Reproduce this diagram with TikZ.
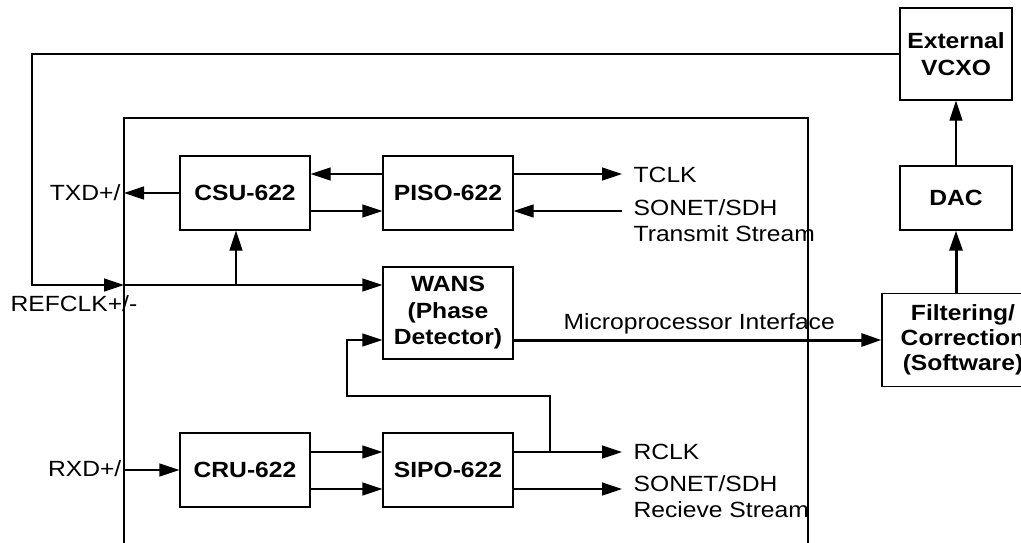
\documentclass[tikz,border=0pt]{standalone}
\usepackage{fontspec}
\setmainfont{Liberation Sans}[FakeStretch=1.12]
\usetikzlibrary{arrows.meta, calc}

\begin{document}
\begin{tikzpicture}[
            x = 1pt, y = -1pt, % pixel units, y going down
            > = {Triangle[length=20pt, width=13pt]}, % arrow head style
            line width = 1.3pt, % line style
            font = \fontsize{22}{26}\selectfont
        ]

        \tikzstyle{block}=[
            draw = black,
            line width = 1.3pt,
            align = center,
            inner sep = 0pt,
            minimum width = 130pt,
            minimum height = 74pt,
            font = \fontsize{22}{26.5}\selectfont\bfseries
        ]
        \tikzstyle{sig}=[inner sep = 0pt, align = left]
        \tikzstyle{thickline}=[line width = 3pt]

        \useasboundingbox (0,0) rectangle (1021,542);

	% chip outline, runs off the bottom
	\draw (124,560) -- (124,118) -- (808,118) -- (808,560);

	\node[block] (csu) at (245,193) {CSU-622};
	\node[block] (piso) at (448,193) {PISO-622};
	\node[block, minimum height=92pt] (wans) at (448,313) {WANS\\(Phase\\Detector)};
	\node[block] (cru) at (245,470) {CRU-622};
	\node[block] (sipo) at (448,470) {SIPO-622};
	\node[block, minimum width=112pt, minimum height=92pt] (vcxo) at (956,54) {External\\VCXO};
	\node[block, minimum width=112pt, minimum height=64pt] (dac) at (956,198) {DAC};
	\node[block, minimum width=162pt, minimum height=93pt, font=\fontsize{22}{25}\selectfont\bfseries] (filt) at (963,340) {Filtering/\\Correction\\(Software)};

	\node[sig, anchor=base east] (txd) at (121,200) {TXD+/};
	\node[sig, anchor=base west] (refclk) at (10,311) {REFCLK+/-};
	\node[sig, anchor=base east] (rxd) at (122,476) {RXD+/};
	\node[sig, anchor=base west] (tclk) at (633,182) {TCLK};
	\node[sig, anchor=base west] (txs) at (633,241) {SONET/SDH\\Transmit Stream};
	\node[sig, anchor=base west] (rclk) at (633,459) {RCLK};
	\node[sig, anchor=base west] (rxs) at (633,517) {SONET/SDH\\Recieve Stream};
	\node[sig, anchor=base west] (mpi) at (563,329) {Microprocessor Interface};

	\coordinate (ref) at (124,285);
	\coordinate (loop) at (32,285);
	\coordinate (tap) at (236,285);
	\coordinate (tclkend) at (622,174);
	\coordinate (txsend) at (622,211);
	\coordinate (rclkend) at (622,452);
	\coordinate (rxsend) at (622,489);
	\coordinate (rtap) at (550,452);
	\coordinate (fb) at (347,396);

	% transmit side
	\draw[->] (csu.west) -- (csu.west -| ref);
	\draw[->] ($(piso.west)+(0,-19)$) -- ($(csu.east)+(0,-19)$);
	\draw[->] ($(csu.east)+(0,18)$) -- ($(piso.west)+(0,18)$);
	\draw[->] ($(piso.east)+(0,-19)$) -- (tclkend);
	\draw[->] (txsend) -- ($(piso.east)+(0,18)$);

	% reference clock loop
	\draw[->] (vcxo.west) -| (loop) -- (ref);
	\draw[->] (ref) -- (wans.west |- ref);
	\draw[->] (tap) -- (tap |- csu.south);

	% receive side
	\draw[->] (cru.west -| ref) -- (cru.west);
	\draw[->] ($(cru.east)+(0,-18)$) -- ($(sipo.west)+(0,-18)$);
	\draw[->] ($(cru.east)+(0,19)$) -- ($(sipo.west)+(0,19)$);
	\draw[->] ($(sipo.east)+(0,-18)$) -- (rclkend);
	\draw[->] ($(sipo.east)+(0,19)$) -- (rxsend);
	\draw[->] (rtap) |- (fb) |- ($(wans.west)+(0,27)$);

	% software path
	\draw[->, thickline] ($(wans.east)+(0,27)$) -- (filt.west);
	\draw[->, thickline] (dac |- filt.north) -- (dac.south);
	\draw[->] (dac.north) -- (vcxo.south);

    \end{tikzpicture}
\end{document}
